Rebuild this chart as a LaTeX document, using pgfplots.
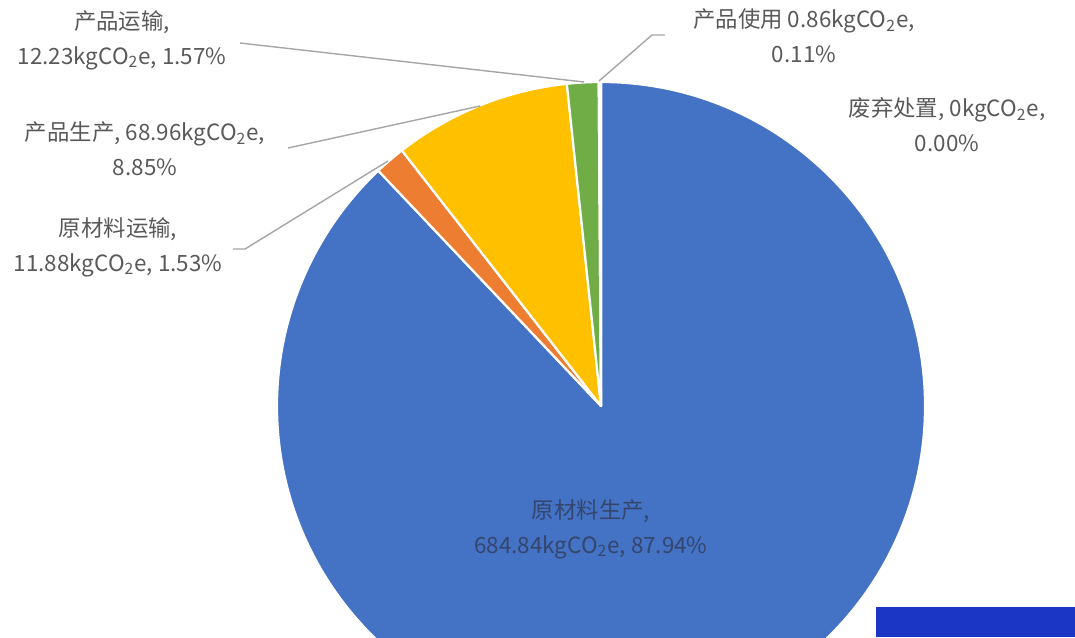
\documentclass[border=0pt]{standalone}
\usepackage{pgfplots}
\usepackage{pgfplotstable}
\pgfplotsset{compat=1.18}
\usepackage{fontspec}
\setmainfont{Noto Sans CJK SC}
\definecolor{pblue}{HTML}{4472C4}
\definecolor{porange}{HTML}{ED7D31}
\definecolor{pyellow}{HTML}{FFC000}
\definecolor{pgreen}{HTML}{70AD47}
\definecolor{plight}{HTML}{DDEBD3}
\definecolor{pgray}{HTML}{A5A5A5}
\definecolor{lbl}{HTML}{595959}
\definecolor{inlbl}{HTML}{34466E}
\definecolor{leader}{HTML}{A6A6A6}
\definecolor{artblue}{HTML}{1B36C4}

\pgfplotstableread{
v c
684.84 pblue
11.88 porange
68.96 pyellow
12.23 pgreen
0.86 plight
0 pgray
}\piedata

\newcommand{\co}{kgCO\textsubscript{2}e}

\begin{document}
\begin{tikzpicture}
\begin{axis}[
  x=0.5pt, y=0.5pt,
  xmin=0, xmax=1075, ymin=0, ymax=637,
  y dir=reverse,
  hide axis,
  scale only axis,
]
\path (axis cs:0,0) rectangle (axis cs:1075,637);
\def\startang{90}
\pgfplotsforeachungrouped \i in {0,...,5}{%
  \pgfplotstablegetelem{\i}{v}\of\piedata \let\val\pgfplotsretval
  \pgfplotstablegetelem{\i}{c}\of\piedata \let\col\pgfplotsretval
  \pgfmathsetmacro\endang{\startang-\val/778.77*360}%
  \edef\cmd{\noexpand\filldraw[fill=\col, draw=white, line width=1.1pt, line join=round] (axis cs:601,406) -- ++(\startang:162pt) arc[start angle=\startang, end angle=\endang, radius=162pt] -- cycle;}%
  \cmd
  \global\let\startang\endang
}
% leader lines
\draw[leader, line width=0.7pt] (axis cs:240,43) -- (axis cs:584,82);
\draw[leader, line width=0.7pt] (axis cs:665,35) -- (axis cs:652,35) -- (axis cs:599,81);
\draw[leader, line width=0.7pt] (axis cs:288,148) -- (axis cs:480,106);
\draw[leader, line width=0.7pt] (axis cs:233,249) -- (axis cs:245,249) -- (axis cs:388,161);
% labels
\tikzset{lab/.style={align=center, text=lbl, inner sep=0pt, font=\fontsize{11.2}{17.5}\selectfont}}
\node[lab] at (axis cs:122,40) {产品运输,\\12.23\co, 1.57\%};
\node[lab] at (axis cs:804,36) {产品使用 0.86\co,\\0.11\%};
\node[lab] at (axis cs:947,125) {废弃处置, 0\co,\\0.00\%};
\node[lab] at (axis cs:145,149) {产品生产, 68.96\co,\\8.85\%};
\node[lab] at (axis cs:118,247) {原材料运输,\\11.88\co, 1.53\%};
\node[lab, text=inlbl] at (axis cs:591,529) {原材料生产,\\684.84\co, 87.94\%};
% bottom-right artifact
\fill[artblue] (axis cs:876,607) rectangle (axis cs:1075,637);
\end{axis}
\end{tikzpicture}
\end{document}
